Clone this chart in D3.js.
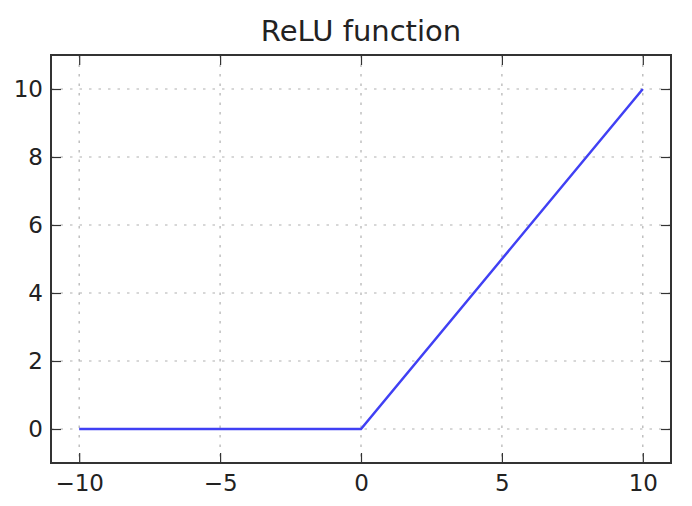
<!DOCTYPE html>
<html>
<head>
<meta charset="utf-8">
<script src="https://d3js.org/d3.v7.min.js"></script>
<style>
  body { margin: 0; background: #fff; }
  svg { display: block; }
  text { font-family: "DejaVu Sans", sans-serif; fill: #222; }
</style>
</head>
<body>
<svg id="viz"></svg>
<script>
let width = 692;
let height = 506;

// relu sampled at the points where the curve bends
let xValues = [-10, -5, 0, 5, 10];
let yValues = [0, 0, 0, 5, 10];
let xTicks = [-10, -5, 0, 5, 10];
let yTicks = [0, 2, 4, 6, 8, 10];
let title = "ReLU function";

let plot = { left: 51, right: 671, top: 55, bottom: 463 };

let svg = d3.select("#viz")
    .attr("width", width)
    .attr("height", height);

let x = d3.scaleLinear().domain([-11, 11]).range([plot.left, plot.right]);
let y = d3.scaleLinear().domain([-1, 11]).range([plot.bottom, plot.top]);

// grid
let grid = svg.append("g")
    .attr("stroke", "#b0b0b0")
    .attr("stroke-width", 1.2)
    .attr("stroke-dasharray", "2.5,7");

grid.selectAll(".gx")
    .data(xTicks)
    .enter()
    .append("line")
    .attr("x1", d => x(d)).attr("x2", d => x(d))
    .attr("y1", plot.top).attr("y2", plot.bottom);

grid.selectAll(".gy")
    .data(yTicks)
    .enter()
    .append("line")
    .attr("y1", d => y(d)).attr("y2", d => y(d))
    .attr("x1", plot.left).attr("x2", plot.right);

// relu line
let line = d3.line()
    .x((d, i) => x(xValues[i]))
    .y(d => y(d));

svg.append("path")
    .datum(yValues)
    .attr("d", line)
    .attr("fill", "none")
    .attr("stroke", "#4040f4")
    .attr("stroke-width", 2.5);

// axes with inward ticks on all sides (classic matplotlib look)
let tickLen = 10;

let bottomAxis = svg.append("g")
    .attr("transform", "translate(0," + plot.bottom + ")")
    .call(d3.axisBottom(x).tickValues(xTicks).tickSize(-tickLen).tickPadding(12)
        .tickFormat(d => d < 0 ? "\u2212" + Math.abs(d) : d));

let topAxis = svg.append("g")
    .attr("transform", "translate(0," + plot.top + ")")
    .call(d3.axisTop(x).tickValues(xTicks).tickSize(-tickLen).tickFormat(""));

let leftAxis = svg.append("g")
    .attr("transform", "translate(" + plot.left + ",0)")
    .call(d3.axisLeft(y).tickValues(yTicks).tickSize(-tickLen).tickPadding(8));

let rightAxis = svg.append("g")
    .attr("transform", "translate(" + plot.right + ",0)")
    .call(d3.axisRight(y).tickValues(yTicks).tickSize(-tickLen).tickFormat(""));

for (const ax of [bottomAxis, topAxis, leftAxis, rightAxis]) {
    ax.select(".domain").remove();
    ax.selectAll(".tick line").attr("stroke", "#333").attr("stroke-width", 1.2);
    ax.selectAll("text")
        .style("font-family", "DejaVu Sans, sans-serif")
        .style("font-size", "23px")
        .attr("fill", "#222");
}

// frame
svg.append("rect")
    .attr("x", plot.left)
    .attr("y", plot.top)
    .attr("width", plot.right - plot.left)
    .attr("height", plot.bottom - plot.top)
    .attr("fill", "none")
    .attr("stroke", "#333")
    .attr("stroke-width", 2);

svg.append("text")
    .attr("x", (plot.left + plot.right) / 2)
    .attr("y", 41)
    .attr("text-anchor", "middle")
    .style("font-size", "29px")
    .text(title);
</script>
</body>
</html>
